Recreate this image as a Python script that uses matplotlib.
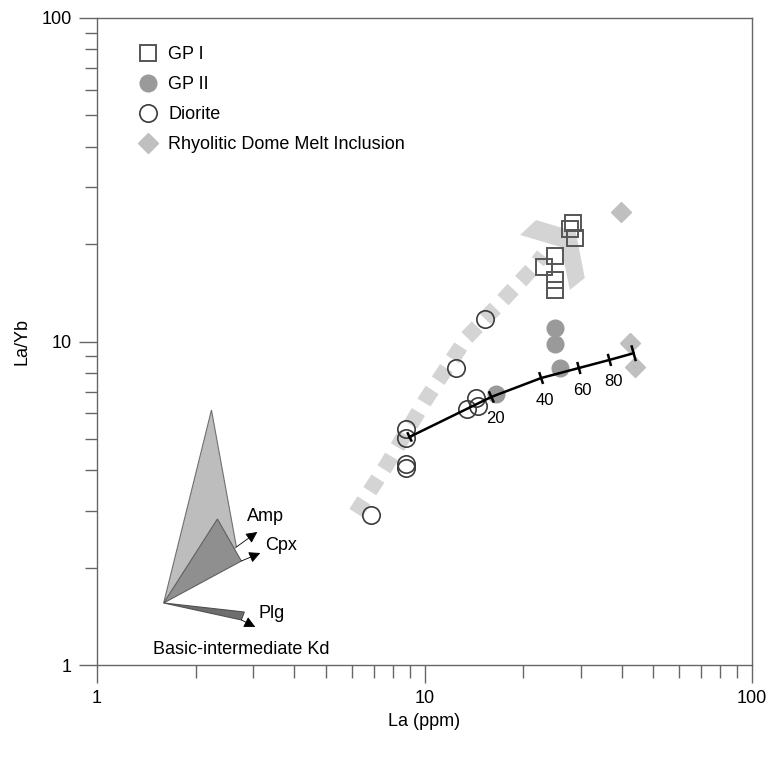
import numpy as np
import matplotlib.pyplot as plt
from matplotlib.patches import Polygon

plt.rcParams['font.family'] = ['Liberation Sans', 'DejaVu Sans']

# sample data
gp1_la = [28.4, 27.8, 28.8, 25.0, 23.2, 25.0, 25.0]
gp1_layb = [23.2, 22.3, 20.9, 18.4, 17.0, 15.5, 14.4]

gp2_la = [25.0, 25.0, 25.9, 16.5]
gp2_layb = [11.0, 9.8, 8.3, 6.9]

dio_la = [15.3, 12.5, 14.4, 14.6, 13.5, 8.75, 8.75, 8.75, 8.75, 6.85]
dio_layb = [11.7, 8.3, 6.7, 6.3, 6.2, 5.37, 5.03, 4.18, 4.06, 2.91]

mi_la = [39.7, 42.3, 43.8]
mi_layb = [25.1, 9.9, 8.34]

# mixing curve, percent marks
mix_pct = [0, 20, 40, 60, 80, 100]
mix_la = [9.0, 16.0, 22.7, 29.6, 36.7, 43.5]
mix_layb = [5.07, 6.74, 7.71, 8.28, 8.77, 9.2]

# trend band (dashed) and its chevron head
trend_la = [6.17, 7.66, 10.07, 13.42, 17.14, 21.44, 23.0]
trend_layb = [2.95, 4.15, 6.59, 10.25, 13.25, 16.88, 18.5]
head_la = [19.58, 21.89, 28.97, 30.86, 27.79, 26.09]
head_layb = [21.34, 23.74, 21.81, 15.72, 14.43, 19.59]

# Kd vectors
vec_origin = (1.598, 1.555)
amp_tri = [(2.236, 6.14), (2.665, 2.317)]
cpx_tri = [(2.332, 2.827), (2.759, 2.096)]
plg_tri = [(2.818, 1.458), (2.759, 1.378)]
amp_arrow = [(2.665, 2.317), (3.086, 2.577)]
cpx_arrow = [(2.759, 2.096), (3.151, 2.219)]
plg_arrow = [(2.759, 1.378), (3.043, 1.311)]


def tick_marks(ax, xs, ys, half):
    # short bars across the curve, in pixel space
    pts = ax.transData.transform(np.column_stack([xs, ys]))
    inv = ax.transData.inverted()
    for i in range(len(pts)):
        a = pts[max(i - 1, 0)]
        b = pts[min(i + 1, len(pts) - 1)]
        d = (b - a) / np.hypot(*(b - a))
        n = np.array([-d[1], d[0]])
        h = half[i]
        seg = inv.transform([pts[i] - n * h, pts[i] + n * h])
        ax.plot(seg[:, 0], seg[:, 1], color='black', lw=1.8, zorder=5)


def draw():
    fig = plt.figure(figsize=(7.66, 7.57), dpi=100)
    ax = fig.add_axes([97 / 766, 1 - 665 / 757, 655 / 766, 647 / 757])
    ax.set_xscale('log')
    ax.set_yscale('log')
    ax.set_xlim(1, 100)
    ax.set_ylim(1, 100)

    for s in ax.spines.values():
        s.set_color('#666666')
        s.set_linewidth(1.0)
    ax.tick_params(which='major', direction='out', length=13, width=1.0,
                   color='#666666', labelsize=13, pad=5)
    ax.tick_params(which='minor', direction='out', length=9, width=1.0,
                   color='#666666')
    ax.set_xticks([1, 10, 100])
    ax.set_xticklabels(['1', '10', '100'])
    ax.set_yticks([1, 10, 100])
    ax.set_yticklabels(['1', '10', '100'])
    ax.set_xlabel('La (ppm)', fontsize=13, labelpad=4)
    ax.set_ylabel('La/Yb', fontsize=13, labelpad=8)

    # trend band
    ax.plot(trend_la, trend_layb, color='#d4d4d4', lw=11, dashes=(0.98, 0.72),
            solid_capstyle='butt', dash_capstyle='butt', zorder=1)
    ax.add_patch(Polygon(list(zip(head_la, head_layb)), closed=True,
                         facecolor='#d4d4d4', edgecolor='none', zorder=1))

    # Kd vector fans
    ax.add_patch(Polygon([vec_origin] + amp_tri, closed=True, facecolor='#bdbdbd',
                         edgecolor='#707070', lw=0.8, zorder=2))
    ax.add_patch(Polygon([vec_origin] + cpx_tri, closed=True, facecolor='#8f8f8f',
                         edgecolor='#606060', lw=0.8, zorder=2))
    ax.add_patch(Polygon([vec_origin] + plg_tri, closed=True, facecolor='#6e6e6e',
                         edgecolor='#505050', lw=0.8, zorder=2))
    for start, tip in [amp_arrow, cpx_arrow, plg_arrow]:
        ax.annotate('', xy=tip, xytext=start,
                    arrowprops=dict(arrowstyle='-|>', color='black', lw=0.6,
                                    mutation_scale=17, shrinkA=0, shrinkB=0))
    ax.text(2.877, 2.868, 'Amp', fontsize=13, va='center', ha='left')
    ax.text(3.264, 2.333, 'Cpx', fontsize=13, va='center', ha='left')
    ax.text(3.108, 1.438, 'Plg', fontsize=13, va='center', ha='left')
    ax.text(1.48, 1.12, 'Basic-intermediate Kd', fontsize=13, va='center', ha='left')

    # mixing curve
    ax.plot(mix_la, mix_layb, color='black', lw=1.8, zorder=5)
    tick_marks(ax, mix_la, mix_layb, [4, 5, 5, 5, 5, 7])
    for p, x, y in zip(mix_pct, mix_la, mix_layb):
        if 0 < p < 100:
            ax.annotate(str(p), (x, y), xytext=(4, -22), textcoords='offset pixels',
                        ha='center', va='center', fontsize=12)

    # samples
    ax.plot(gp1_la, gp1_layb, 's', ms=11, mfc='none', mec='#555555', mew=1.4,
            ls='none', label='GP I', zorder=4)
    ax.plot(gp2_la, gp2_layb, 'o', ms=12, mfc='#9a9a9a', mec='#9a9a9a',
            ls='none', label='GP II', zorder=3)
    ax.plot(dio_la, dio_layb, 'o', ms=12.5, mfc='none', mec='#3a3a3a', mew=1.2,
            ls='none', label='Diorite', zorder=4)
    ax.plot(mi_la, mi_layb, 'D', ms=10, mfc='#bfbfbf', mec='#bfbfbf',
            ls='none', label='Rhyolitic Dome Melt Inclusion', zorder=3)

    ax.legend(loc='upper left', bbox_to_anchor=(0.037, 0.982), frameon=False,
              fontsize=13, labelspacing=0.72, handletextpad=0.5,
              handlelength=1.2)

    fig.savefig('out.png', dpi=100)


def main():
    draw()


if __name__ == '__main__':
    main()
